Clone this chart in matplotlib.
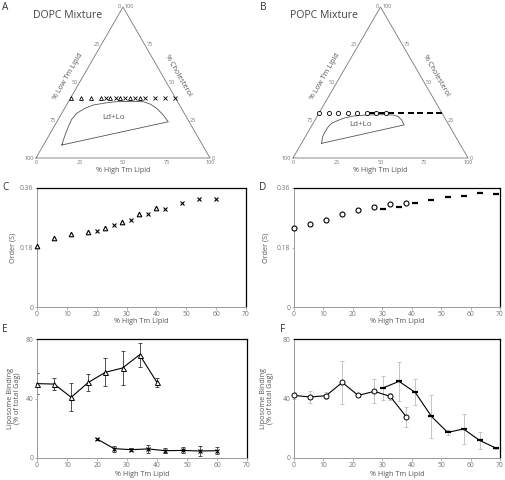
import numpy as np
import matplotlib.pyplot as plt

plt.rcParams['font.family'] = ['Open Sans', 'DejaVu Sans']

W, H = 505, 480
SQ3 = np.sqrt(3) / 2

# ---- DOPC mixture (ternary row at 40 % cholesterol) ----
DOPC_CHOL = 40
DOPC_TRI_X = [0, 5.7, 11.4, 17.1, 22.8, 28.5, 34.2, 40]
DOPC_CRS_X = [20, 25.7, 31.4, 37.1, 42.8, 48.5, 54.2, 60]
DOPC_TRI_ORDER = [0.186, 0.208, 0.220, 0.228, 0.238, 0.256, 0.282, 0.299]
DOPC_CRS_ORDER = [0.231, 0.248, 0.263, 0.280, 0.296, 0.315, 0.327, 0.327]
DOPC_TRI_BIND = [50, 49.7, 40.8, 50.8, 57.6, 60.5, 69.4, 50.8]
DOPC_TRI_ERR = [7, 4.3, 9.5, 5.5, 9.3, 11.4, 8.2, 3]
DOPC_CRS_BIND = [12.8, 6.3, 5.6, 6.1, 4.9, 5.1, 4.7, 4.9]
DOPC_CRS_ERR = [0.5, 2, 1, 2.5, 1.5, 2, 3.5, 2.5]
# Ld+Lo boundary (high Tm %, cholesterol %)
DOPC_PH_H = [10.5, 9.1, 8.2, 7.7, 8.6, 11.7, 15.4, 22.4, 27.7, 37.2, 43, 47.6, 52.9, 58.9, 64]
DOPC_PH_C = [8.6, 15.2, 20.7, 25.6, 29.6, 32.9, 35.1, 36.6, 37.3, 37.5, 37.3, 35.8, 32.9, 28.5, 24]

# ---- POPC mixture (ternary row at 30 % cholesterol) ----
POPC_CHOL = 30
POPC_CIR_X = [0, 5.45, 10.9, 16.4, 21.8, 27.3, 32.7, 38.2]
POPC_DSH_X = [30.2, 35.7, 41.2, 46.7, 52.2, 57.6, 63.1, 68.6]
POPC_CIR_ORDER = [0.238, 0.251, 0.263, 0.280, 0.292, 0.303, 0.311, 0.315]
POPC_DSH_ORDER = [0.296, 0.303, 0.315, 0.324, 0.332, 0.336, 0.346, 0.342]
POPC_CIR_BIND = [42.1, 41, 41.9, 50.8, 42.1, 44.8, 41.4, 27.6]
POPC_CIR_ERR = [2.5, 4, 2.5, 14.5, 1, 8, 2.5, 7]
POPC_DSH_BIND = [47.1, 51.5, 44.1, 28, 17.2, 19.5, 11.8, 6.7]
POPC_DSH_ERR = [8, 13, 8.7, 14.3, 1.7, 10, 5.7, 0.5]
POPC_PH_H = [11.5, 9.9, 9.6, 9.8, 10.6, 13, 15.6, 20.6, 27.9, 37.3, 43.1, 46.5, 49.5, 52.5]
POPC_PH_C = [9.7, 14.1, 17.4, 20.7, 23, 24.7, 26.3, 27.8, 28.5, 28.7, 28.5, 27.4, 25.2, 21.9]

TERN_TICKS = [0, 25, 50, 75, 100]
ORDER_TICKS = [0, 0.18, 0.36]
BIND_TICKS = [0, 40, 80]
X_TICKS = list(range(0, 71, 10))

GRAY = '#777777'
TXT = '#555555'


def px_axes(fig, x0, y0, x1, y1):
    return fig.add_axes([x0 / W, 1 - y1 / H, (x1 - x0) / W, (y1 - y0) / H])


def tern(h, c):
    h = np.asarray(h, float)
    c = np.asarray(c, float)
    return (h + c / 2) / 100, c / 100 * SQ3


def draw_ternary(ax, ph_h, ph_c):
    ax.set_xlim(0, 1)
    ax.set_ylim(0, SQ3)
    ax.axis('off')
    ax.plot([0, 1, 0.5, 0], [0, 0, SQ3, 0], color=GRAY, lw=0.6, clip_on=False)
    px, py = tern(ph_h + ph_h[:1], ph_c + ph_c[:1])
    ax.plot(px, py, color='#555555', lw=0.6)
    kw = dict(fontsize=4.0, color=GRAY, clip_on=False)
    for v in TERN_TICKS:
        x, y = tern(0, 100 - v)          # left edge: % low Tm
        ax.text(x - 0.01, y, str(v), ha='right', va='center', **kw)
        x, y = tern(100 - v, v)          # right edge: % cholesterol
        ax.text(x + 0.01, y, str(v), ha='left', va='center', **kw)
        x, y = tern(v, 0)                # bottom: % high Tm
        ax.text(x, y - 0.012, str(v), ha='center', va='top', **kw)
    d = 0.075
    ax.text(0.25 - 0.866 * d, SQ3 / 2 + 0.5 * d, '% Low Tm Lipid', rotation=60,
            ha='center', va='center', fontsize=5.2, color=TXT)
    ax.text(0.75 + 0.866 * d, SQ3 / 2 + 0.5 * d, '% Cholesterol', rotation=-60,
            ha='center', va='center', fontsize=5.2, color=TXT)
    ax.text(0.5, -0.07, '% High Tm Lipid', ha='center', va='center',
            fontsize=5.2, color=TXT)


def style_xy(ax, ylim, yticks, ylabel, ylx, fmt):
    ax.set_xlim(0, 70)
    ax.set_ylim(*ylim)
    ax.set_xticks(X_TICKS)
    ax.set_yticks(yticks)
    ax.set_yticklabels([fmt(t) for t in yticks])
    for s in ['top', 'right']:
        ax.spines[s].set_color('black')
        ax.spines[s].set_linewidth(0.9)
    for s in ['left', 'bottom']:
        ax.spines[s].set_color('#999999')
        ax.spines[s].set_linewidth(0.7)
    ax.tick_params(length=1.8, width=0.5, pad=0.8, labelsize=4.9,
                   colors='#999999', labelcolor=GRAY)
    ax.set_xlabel('% High Tm Lipid', fontsize=5.2, color=TXT)
    ax.xaxis.set_label_coords(0.5, -0.095)
    ax.set_ylabel(ylabel, fontsize=5.2, color=TXT, linespacing=1.1)
    ax.yaxis.set_label_coords(ylx, 0.5)


fig = plt.figure(figsize=(W / 100, H / 100), dpi=100)

# ---- A: DOPC ternary ----
axA = px_axes(fig, 36, 7, 210, 158)
draw_ternary(axA, DOPC_PH_H, DOPC_PH_C)
x, y = tern(DOPC_TRI_X, [DOPC_CHOL] * len(DOPC_TRI_X))
axA.plot(x, y, '^', ms=2.8, mfc='white', mec='black', mew=0.6, clip_on=False)
x, y = tern(DOPC_CRS_X, [DOPC_CHOL] * len(DOPC_CRS_X))
axA.plot(x, y, 'x', ms=2.6, color='black', mew=0.6, clip_on=False)
axA.text(0.445, 0.232, 'Ld+Lo', ha='center', va='center', fontsize=5.8, color=TXT)

# ---- B: POPC ternary ----
axB = px_axes(fig, 293, 7, 468, 158)
draw_ternary(axB, POPC_PH_H, POPC_PH_C)
x, y = tern(POPC_DSH_X, [POPC_CHOL] * len(POPC_DSH_X))
axB.plot(x, y, '_', ms=5, color='black', mew=1.4, clip_on=False)
x, y = tern(POPC_CIR_X, [POPC_CHOL] * len(POPC_CIR_X))
axB.plot(x, y, 'o', ms=3, mfc='white', mec='black', mew=0.6, clip_on=False)
axB.text(0.385, 0.19, 'Ld+Lo', ha='center', va='center', fontsize=5.8, color=TXT)

# ---- C: DOPC order ----
axC = px_axes(fig, 37, 188, 246, 307)
axC.plot(DOPC_TRI_X, DOPC_TRI_ORDER, '^', ms=3.3, mfc='white', mec='black',
         mew=0.8, clip_on=False, zorder=3)
axC.plot(DOPC_CRS_X, DOPC_CRS_ORDER, 'x', ms=3.2, color='black', mew=0.8,
         clip_on=False, zorder=3)
style_xy(axC, (0, 0.36), ORDER_TICKS, 'Order (S)', -0.10,
         lambda t: '0' if t == 0 else f'{t:.2f}')

# ---- D: POPC order ----
axD = px_axes(fig, 294, 188, 500, 307)
axD.plot(POPC_CIR_X, POPC_CIR_ORDER, 'o', ms=3.6, mfc='white', mec='black',
         mew=0.8, clip_on=False, zorder=3)
axD.plot(POPC_DSH_X, POPC_DSH_ORDER, '_', ms=4.5, color='black', mew=1.6,
         clip_on=False, zorder=3)
style_xy(axD, (0, 0.36), ORDER_TICKS, 'Order (S)', -0.12,
         lambda t: '0' if t == 0 else f'{t:.2f}')

# ---- E: DOPC binding ----
axE = px_axes(fig, 37, 339, 247, 458)
axE.errorbar(DOPC_TRI_X, DOPC_TRI_BIND, yerr=DOPC_TRI_ERR, fmt='none',
             ecolor='#333333', elinewidth=0.6, capsize=1.5, capthick=0.6)
axE.errorbar(DOPC_CRS_X, DOPC_CRS_BIND, yerr=DOPC_CRS_ERR, fmt='none',
             ecolor='#333333', elinewidth=0.6, capsize=1.5, capthick=0.6)
axE.plot(DOPC_TRI_X, DOPC_TRI_BIND, '-^', color='black', lw=0.8, ms=3.6,
         mfc='white', mec='black', mew=0.7, clip_on=False, zorder=3)
axE.plot(DOPC_CRS_X, DOPC_CRS_BIND, '-x', color='black', lw=0.8, ms=3.2,
         mew=0.8, clip_on=False, zorder=3)
style_xy(axE, (0, 80), BIND_TICKS, 'Liposome Binding\n(% of total Gag)', -0.075,
         lambda t: str(t))
axE.xaxis.set_label_coords(0.5, -0.11)

# ---- F: POPC binding ----
axF = px_axes(fig, 294, 339, 500, 458)
axF.errorbar(POPC_CIR_X, POPC_CIR_BIND, yerr=POPC_CIR_ERR, fmt='none',
             ecolor='#bbbbbb', elinewidth=0.6, capsize=1.5, capthick=0.6)
axF.errorbar(POPC_DSH_X, POPC_DSH_BIND, yerr=POPC_DSH_ERR, fmt='none',
             ecolor='#bbbbbb', elinewidth=0.6, capsize=1.5, capthick=0.6)
axF.plot(POPC_CIR_X, POPC_CIR_BIND, '-o', color='black', lw=0.8, ms=3.6,
         mfc='white', mec='black', mew=0.7, clip_on=False, zorder=3)
axF.plot(POPC_DSH_X, POPC_DSH_BIND, '-_', color='black', lw=0.8, ms=4.5,
         mew=1.6, clip_on=False, zorder=3)
style_xy(axF, (0, 80), BIND_TICKS, 'Liposome Binding\n(% of total Gag)', -0.095,
         lambda t: str(t))
axF.xaxis.set_label_coords(0.5, -0.11)

# ---- titles and panel letters ----
fig.text(33 / W, 1 - 16 / H, 'DOPC Mixture', fontsize=7.6, color='#444444',
         ha='left', va='center')
fig.text(290 / W, 1 - 16 / H, 'POPC Mixture', fontsize=7.6, color='#444444',
         ha='left', va='center')
for lbl, px, py in [('A', 2, 7), ('B', 260, 7), ('C', 2, 188),
                    ('D', 259, 188), ('E', 2, 330), ('F', 280, 330)]:
    fig.text(px / W, 1 - py / H, lbl, fontsize=7.2, color='#333333',
             ha='left', va='center')

fig.savefig('out.png', dpi=100)
